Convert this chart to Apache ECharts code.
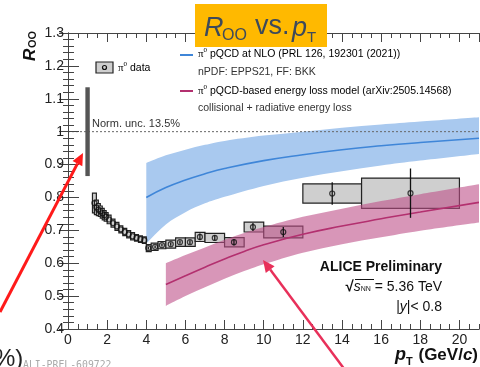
<!DOCTYPE html>
<html>
<head>
<meta charset="utf-8">
<script src="https://cdn.jsdelivr.net/npm/echarts@6/dist/echarts.min.js"></script>
<style>
html, body { margin: 0; padding: 0; background: #fff; }
#chart { width: 480px; height: 367px; }
</style>
</head>
<body>
<div id="chart"></div>
<script>
// pi0 R_OO, low pT part (narrow systematic boxes)
var lowPt = [1.35, 1.45, 1.55, 1.65, 1.75, 1.85, 1.95, 2.1, 2.3, 2.5, 2.7, 2.9, 3.1, 3.3, 3.5, 3.7, 3.9]
var lowR = [0.783, 0.77, 0.763, 0.758, 0.752, 0.746, 0.741, 0.733, 0.722, 0.712, 0.703, 0.695, 0.688, 0.682, 0.677, 0.673, 0.67]
var lowSys = [0.03, 0.022, 0.018, 0.016, 0.015, 0.014, 0.013, 0.013, 0.012, 0.012, 0.011, 0.011, 0.011, 0.011, 0.01, 0.01, 0.01]
var lowHalfWidth = 0.1

// pi0 R_OO, high pT bins
var binLo = [4.0, 4.25, 4.6, 5, 5.5, 6, 6.5, 7, 8, 9, 10, 12, 15]
var binHi = [4.25, 4.6, 5, 5.5, 6, 6.5, 7, 8, 9, 10, 12, 15, 20]
var highPt = [4.1, 4.45, 4.8, 5.25, 5.72, 6.23, 6.74, 7.5, 8.48, 9.45, 11, 13.5, 17.5]
var highR = [0.646, 0.65, 0.655, 0.658, 0.664, 0.664, 0.68, 0.677, 0.664, 0.71, 0.695, 0.812, 0.813]
var highSys = [0.011, 0.011, 0.011, 0.012, 0.013, 0.013, 0.014, 0.014, 0.014, 0.015, 0.018, 0.029, 0.046]
var highStat = [0.004, 0.004, 0.004, 0.005, 0.005, 0.006, 0.01, 0.008, 0.01, 0.012, 0.015, 0.034, 0.075]

// normalisation uncertainty
var normX = 1.0
var normUnc = 0.135
var unityX = [0, 21]

// pi0 pQCD at NLO
var nloPt = [4, 5, 6, 7, 8, 10, 12, 14, 16, 18, 21]
var nloMid = [0.80, 0.83, 0.853, 0.872, 0.888, 0.912, 0.93, 0.945, 0.957, 0.967, 0.98]
var nloUp = [0.905, 0.928, 0.945, 0.96, 0.972, 0.988, 1.0, 1.012, 1.022, 1.031, 1.044]
var nloLo = [0.66, 0.718, 0.755, 0.782, 0.802, 0.835, 0.86, 0.88, 0.897, 0.912, 0.932]

// energy loss model
var elPt = [5, 6, 7, 8, 9, 10, 12, 14, 16, 18, 21]
var elMid = [0.535, 0.562, 0.588, 0.613, 0.636, 0.656, 0.688, 0.713, 0.735, 0.756, 0.785]
var elUp = [0.6, 0.625, 0.648, 0.671, 0.692, 0.71, 0.741, 0.766, 0.789, 0.81, 0.84]
var elLo = [0.47, 0.5, 0.527, 0.553, 0.576, 0.597, 0.632, 0.658, 0.679, 0.699, 0.724]

var FONT = 'Liberation Sans, Arial, sans-serif'
var pairs = function (xs, ys) { return xs.map(function (x, i) { return [x, ys[i]] }) }

var boxData = lowPt.map(function (x, i) { return [x - lowHalfWidth, x + lowHalfWidth, lowR[i], lowSys[i]] })
    .concat(binLo.map(function (lo, i) { return [lo, binHi[i], highR[i], highSys[i]] }))
var pointData = pairs(lowPt, lowR).concat(pairs(highPt, highR))
var statData = highPt.map(function (x, i) { return [x, highR[i], highStat[i]] })

// smooth path through pixel points (Catmull-Rom -> cubic bezier)
function curvePath(pts, start) {
    var d = start ? 'M' + pts[0][0] + ',' + pts[0][1] : 'L' + pts[0][0] + ',' + pts[0][1]
    for (var i = 0; i < pts.length - 1; i++) {
        var p0 = pts[Math.max(i - 1, 0)], p1 = pts[i], p2 = pts[i + 1], p3 = pts[Math.min(i + 2, pts.length - 1)]
        var c1 = [p1[0] + (p2[0] - p0[0]) / 6, p1[1] + (p2[1] - p0[1]) / 6]
        var c2 = [p2[0] - (p3[0] - p1[0]) / 6, p2[1] - (p3[1] - p1[1]) / 6]
        d += 'C' + c1[0] + ',' + c1[1] + ',' + c2[0] + ',' + c2[1] + ',' + p2[0] + ',' + p2[1]
    }
    return d
}
function bandSeries(xs, up, lo, color, opacity, z) {
    return { type: 'custom', z: z, silent: true, data: [0],
        renderItem: function (params, api) {
            var top = xs.map(function (x, i) { return api.coord([x, up[i]]) })
            var bot = xs.map(function (x, i) { return api.coord([x, lo[i]]) }).reverse()
            return { type: 'path', shape: { pathData: curvePath(top, true) + curvePath(bot, false) + 'Z' },
                style: { fill: color, opacity: opacity } }
        } }
}

var Chart = echarts.init(document.getElementById('chart'))

var axisColor = '#444'
var xBase = { type: 'value', min: 0, max: 21, z: 10, splitLine: { show: false },
    axisLine: { onZero: false, lineStyle: { color: axisColor } } }
var yBase = { type: 'value', min: 0.4, max: 1.3, interval: 0.1, z: 10, splitLine: { show: false },
    axisLine: { lineStyle: { color: axisColor } } }

function arrow(x1, y1, x2, y2, color, w) {
    var dx = x2 - x1, dy = y2 - y1, len = Math.sqrt(dx * dx + dy * dy)
    var ux = dx / len, uy = dy / len, hl = 12, hw = 5.5
    var bx = x2 - ux * hl, by = y2 - uy * hl
    return [
        { type: 'line', shape: { x1: x1, y1: y1, x2: bx, y2: by }, style: { stroke: color, lineWidth: w }, z: 100 },
        { type: 'polygon', shape: { points: [[x2, y2], [bx - uy * hw, by + ux * hw], [bx + uy * hw, by - ux * hw]] },
            style: { fill: color }, z: 100 }
    ]
}

var legendText = { fontSize: 10.5, fontFamily: FONT, fill: '#333' }
var rich = {
    pi: { fontSize: 11, fontFamily: 'Liberation Serif, serif', color: '#333' },
    sup: { fontSize: 7, fontFamily: 'Liberation Serif, serif', color: '#333', padding: [0, 0, 7, 0] },
    t: { fontSize: 10.5, fontFamily: FONT, color: '#333' }
}

var option = {
    animation: false,
    grid: { left: 68, right: 1, top: 33, bottom: 38 },
    xAxis: [
        Object.assign({}, xBase, { position: 'bottom', interval: 2,
            axisTick: { inside: true, length: 9, lineStyle: { color: axisColor } },
            axisLabel: { fontSize: 14, fontFamily: FONT, color: '#222', margin: 4, showMaxLabel: false } }),
        Object.assign({}, xBase, { position: 'bottom', interval: 0.5,
            axisTick: { inside: true, length: 5, lineStyle: { color: axisColor } }, axisLabel: { show: false } }),
        Object.assign({}, xBase, { position: 'top', interval: 2,
            axisTick: { inside: true, length: 9, lineStyle: { color: axisColor } }, axisLabel: { show: false } }),
        Object.assign({}, xBase, { position: 'top', interval: 0.5,
            axisTick: { inside: true, length: 5, lineStyle: { color: axisColor } }, axisLabel: { show: false } })
    ],
    yAxis: [
        Object.assign({}, yBase, { position: 'left',
            axisTick: { inside: true, length: 11, lineStyle: { color: axisColor } },
            minorTick: { show: true, splitNumber: 5, length: 6, lineStyle: { color: axisColor } },
            axisLabel: { fontSize: 14, fontFamily: FONT, color: '#222', margin: 4 } }),
        Object.assign({}, yBase, { position: 'right',
            axisTick: { inside: true, length: 9, lineStyle: { color: axisColor } },
            minorTick: { show: true, splitNumber: 5, length: 5, lineStyle: { color: axisColor } },
            axisLabel: { show: false } })
    ],
    series: [
        bandSeries(nloPt, nloUp, nloLo, '#a9c9ef', 1, 1),
        // systematic boxes
        { type: 'custom', z: 2, data: boxData, encode: { x: [0, 1], y: 2 },
            renderItem: function (params, api) {
                var p1 = api.coord([api.value(0), api.value(2) + api.value(3)])
                var p2 = api.coord([api.value(1), api.value(2) - api.value(3)])
                return { type: 'rect', shape: { x: p1[0], y: p1[1], width: p2[0] - p1[0], height: p2[1] - p1[1] },
                    style: { fill: '#cfcfcf', stroke: '#222', lineWidth: 1.2 } }
            } },
        bandSeries(elPt, elUp, elLo, 'rgb(190,80,137)', 0.6, 3),
        // central curves
        { type: 'line', data: pairs(nloPt, nloMid), smooth: true, symbol: 'none', z: 4,
            lineStyle: { color: '#3f86d8', width: 1.6 } },
        { type: 'line', data: pairs(elPt, elMid), smooth: true, symbol: 'none', z: 4,
            lineStyle: { color: '#b3306f', width: 1.6 } },
        // unity line
        { type: 'line', data: pairs(unityX, [1, 1]), symbol: 'none', z: 4,
            lineStyle: { color: '#666', width: 1, type: [2, 2] } },
        // stat errors
        { type: 'custom', z: 5, data: statData, encode: { x: 0, y: 1 },
            renderItem: function (params, api) {
                var a = api.coord([api.value(0), api.value(1) + api.value(2)])
                var b = api.coord([api.value(0), api.value(1) - api.value(2)])
                return { type: 'line', shape: { x1: a[0], y1: a[1], x2: b[0], y2: b[1] },
                    style: { stroke: '#111', lineWidth: 1.3 } }
            } },
        // points
        { type: 'scatter', z: 6, data: pointData, symbol: 'circle', symbolSize: 5,
            itemStyle: { color: 'rgba(0,0,0,0)', borderColor: '#111', borderWidth: 1.2 } },
        // normalisation uncertainty bar
        { type: 'custom', z: 5, data: [[normX, 1 - normUnc, 1 + normUnc]], encode: { x: 0, y: [1, 2] },
            renderItem: function (params, api) {
                var a = api.coord([api.value(0), api.value(2)])
                var b = api.coord([api.value(0), api.value(1)])
                return { type: 'rect', shape: { x: a[0] - 2.2, y: a[1], width: 4.4, height: b[1] - a[1] },
                    style: { fill: '#555' } }
            } }
    ],
    graphic: [
        // y axis title
        { type: 'group', x: 30, y: 44, rotation: Math.PI / 2, children: [
            { type: 'text', x: -17, y: 0, style: { text: 'R', font: 'italic bold 17px ' + FONT, fill: '#111', verticalAlign: 'middle' } },
            { type: 'text', x: -4, y: 3, style: { text: 'OO', font: 'bold 11px ' + FONT, fill: '#111', verticalAlign: 'middle' } }
        ] },
        // x axis title
        { type: 'text', x: 395, y: 355, style: { text: 'p', font: 'italic bold 18px ' + FONT, fill: '#111', verticalAlign: 'middle' } },
        { type: 'text', x: 406, y: 362, style: { text: 'T', font: 'bold 11px ' + FONT, fill: '#111', verticalAlign: 'middle' } },
        { type: 'text', x: 478, y: 355, style: { text: '(GeV/{c|c})', font: 'bold 17px ' + FONT, fill: '#111',
            align: 'right', verticalAlign: 'middle', rich: { c: { font: 'italic bold 17px ' + FONT, fill: '#111' } } } },
        // legend
        { type: 'rect', shape: { x: 96, y: 62, width: 17, height: 11 }, style: { fill: '#cfcfcf', stroke: '#222', lineWidth: 1.2 } },
        { type: 'circle', shape: { cx: 104.5, cy: 67.5, r: 2 }, style: { fill: 'none', stroke: '#111', lineWidth: 1.2 } },
        { type: 'text', x: 118, y: 68, style: { text: '{pi|π}{sup|0}{t| data}', rich: rich, verticalAlign: 'middle' } },
        { type: 'line', shape: { x1: 180, y1: 55, x2: 193, y2: 55 }, style: { stroke: '#3f86d8', lineWidth: 2 } },
        { type: 'line', shape: { x1: 180, y1: 91, x2: 193, y2: 91 }, style: { stroke: '#b3306f', lineWidth: 2 } },
        { type: 'text', x: 198, y: 54, style: { text: '{pi|π}{sup|0}{t| pQCD at NLO (PRL 126, 192301 (2021))}', rich: rich, verticalAlign: 'middle' } },
        { type: 'text', x: 198, y: 72, style: Object.assign({ text: 'nPDF: EPPS21, FF: BKK', verticalAlign: 'middle' }, legendText) },
        { type: 'text', x: 198, y: 91, style: { text: '{pi|π}{sup|0}{t| pQCD-based energy loss model (arXiv:2505.14568)}', rich: rich, verticalAlign: 'middle' } },
        { type: 'text', x: 198, y: 108, style: Object.assign({ text: 'collisional + radiative energy loss', verticalAlign: 'middle' }, legendText) },
        // norm label
        { type: 'text', x: 92, y: 124, style: { text: 'Norm. unc. 13.5%', font: '11px ' + FONT, fill: '#333', verticalAlign: 'middle' } },
        // ALICE labels
        { type: 'text', x: 442, y: 267, style: { text: 'ALICE Preliminary', font: 'bold 14px ' + FONT, fill: '#111', align: 'right', verticalAlign: 'middle' } },
        { type: 'text', x: 442, y: 287, style: { text: '{sq|√}{s|s}{nn|NN}{t| = 5.36 TeV}', align: 'right', verticalAlign: 'middle',
            rich: { sq: { font: 'bold 15px ' + FONT, fill: '#111' }, s: { font: 'italic 14px ' + FONT, fill: '#111' },
                nn: { font: '7px ' + FONT, fill: '#111', padding: [5, 0, 0, 0] }, t: { font: '14px ' + FONT, fill: '#111' } } } },
        { type: 'line', shape: { x1: 355, y1: 279.5, x2: 374, y2: 279.5 }, style: { stroke: '#111', lineWidth: 1 } },
        { type: 'text', x: 442, y: 307, style: { text: '|{y|y}|< 0.8', font: '14px ' + FONT, fill: '#111', align: 'right', verticalAlign: 'middle',
            rich: { y: { font: 'italic 14px ' + FONT, fill: '#111' } } } },
        // title box
        { type: 'rect', z: 50, shape: { x: 195, y: 4, width: 132, height: 43 }, style: { fill: '#ffb900' } },
        { type: 'text', z: 51, x: 204, y: 28, style: { text: 'R', font: 'italic 27px ' + FONT, fill: '#3d4a5b', verticalAlign: 'middle' } },
        { type: 'text', z: 51, x: 222, y: 36, style: { text: 'OO', font: '16px ' + FONT, fill: '#3d4a5b', verticalAlign: 'middle' } },
        { type: 'text', z: 51, x: 255, y: 27, style: { text: 'vs.', font: '27px ' + FONT, fill: '#3d4a5b', verticalAlign: 'middle' } },
        { type: 'text', z: 51, x: 292, y: 28, style: { text: 'p', font: 'italic 27px ' + FONT, fill: '#3d4a5b', verticalAlign: 'middle' } },
        { type: 'text', z: 51, x: 307, y: 38, style: { text: 'T', font: '15px ' + FONT, fill: '#3d4a5b', verticalAlign: 'middle' } },
        // bottom left fragments
        { type: 'text', x: -6, y: 347, style: { text: '%)', font: '24px ' + FONT, fill: '#222', verticalAlign: 'top' } },
        { type: 'text', x: 23, y: 360, style: { text: 'ALI-PREL-609722', font: '9.8px DejaVu Sans Mono, monospace', fill: '#aaa', verticalAlign: 'top' } }
    ].concat(arrow(0, 312, 83, 153, '#ff1a1a', 3)).concat(arrow(345, 370, 263, 260, '#e8305a', 2.5))
}
Chart.setOption(option)
</script>
</body>
</html>
